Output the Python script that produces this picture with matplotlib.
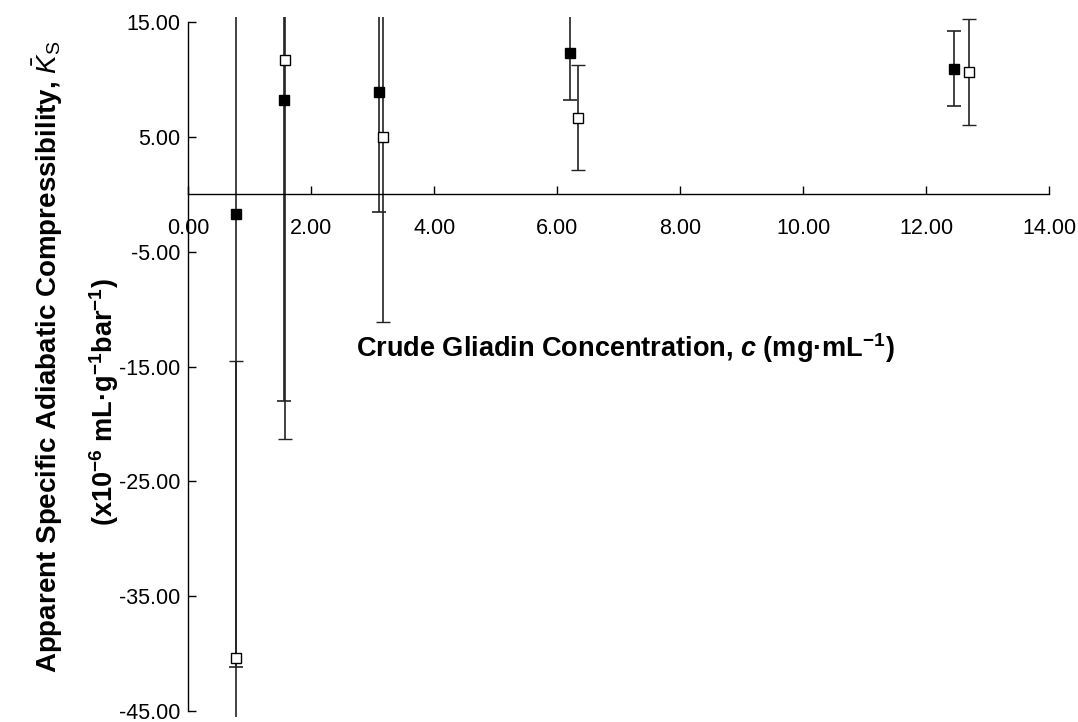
import matplotlib
matplotlib.use("Agg")
import matplotlib.pyplot as plt

plt.rcParams['font.family'] = ['Liberation Sans', 'DejaVu Sans']
plt.rcParams['mathtext.fontset'] = 'custom'
plt.rcParams['mathtext.rm'] = 'Liberation Sans'
plt.rcParams['mathtext.it'] = 'Liberation Sans:italic'
plt.rcParams['mathtext.bf'] = 'Liberation Sans:bold'
plt.rcParams['mathtext.bfit'] = 'Liberation Sans:bold:italic'

# filled squares
conc_a = [0.78, 1.55, 3.10, 6.21, 12.45]
ks_a = [-1.7, 8.2, 8.9, 12.3, 10.95]
err_a = [39.5, 26.2, 10.4, 4.1, 3.25]

# open squares
conc_b = [0.78, 1.58, 3.17, 6.34, 12.69]
ks_b = [-40.4, 11.7, 5.0, 6.7, 10.65]
err_b = [25.9, 33.0, 16.1, 4.6, 4.6]

xticks = [0, 2, 4, 6, 8, 10, 12, 14]
yticks = [-45, -35, -25, -15, -5, 5, 15]

fig = plt.figure(figsize=(10.78, 7.22), dpi=100)
ax = fig.add_axes([0.1747, 0.0073, 0.7987, 0.9690])

ax.errorbar(conc_b, ks_b, yerr=err_b, fmt='s', ms=7, mfc='white', mec='black',
            mew=1.0, ecolor='#222222', elinewidth=1.2, capsize=5, capthick=1.2)
ax.errorbar(conc_a, ks_a, yerr=err_a, fmt='s', ms=7.5, mfc='black', mec='black',
            ecolor='#222222', elinewidth=1.2, capsize=5, capthick=1.2)

ax.set_xlim(0, 14)
ax.set_ylim(-45.5, 15.45)
ax.set_xticks(xticks)
ax.set_yticks(yticks)
ax.set_xticklabels([f'{v:.2f}' for v in xticks])
ax.set_yticklabels([f'{v:.2f}' for v in yticks])

ax.spines['top'].set_visible(False)
ax.spines['right'].set_visible(False)
ax.spines['bottom'].set_position(('data', 0))
ax.spines['left'].set_bounds(-45, 15)
for s in ('bottom', 'left'):
    ax.spines[s].set_linewidth(1.0)
    ax.spines[s].set_color('black')

ax.tick_params(axis='x', direction='in', length=6, width=1, pad=17, labelsize=15.5)
ax.tick_params(axis='y', direction='in', length=6, width=1, pad=6, labelsize=15.5)

ax.text(7.10, -13.35,
        r'Crude Gliadin Concentration, $\mathbfit{c}$ (mg·mL$^{\mathdefault{-1}}$)',
        ha='center', va='center', fontsize=19.5, fontweight='bold')

fig.text(48 / 1078, 1 - 357 / 722,
         r'Apparent Specific Adiabatic Compressibility, $\bar{K}_{\mathrm{S}}$',
         rotation=90, ha='center', va='center', fontsize=20, fontweight='bold')
fig.text(104 / 1078, 1 - 402 / 722,
         r'(x10$^{\mathdefault{-6}}$ mL·g$^{\mathdefault{-1}}$bar$^{\mathdefault{-1}}$)',
         rotation=90, ha='center', va='center', fontsize=19.5, fontweight='bold')

fig.savefig('out.png', dpi=100)
